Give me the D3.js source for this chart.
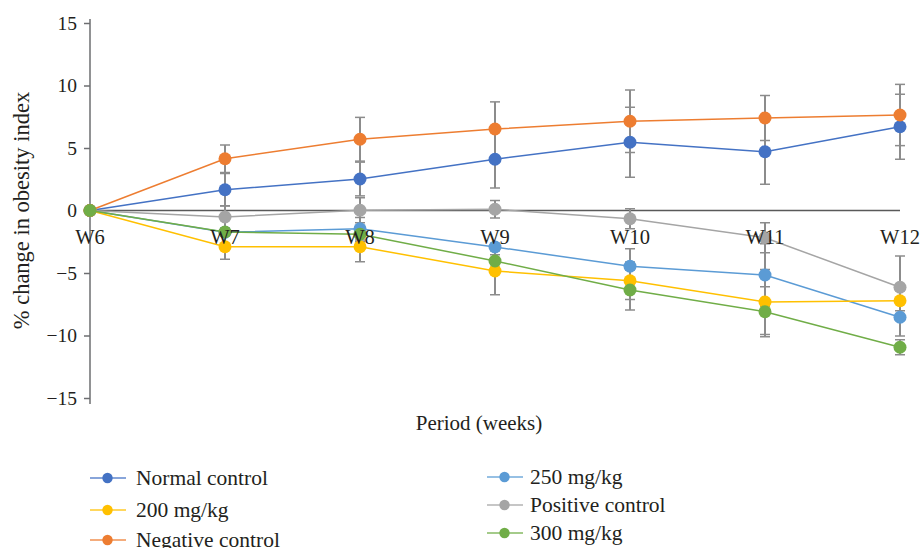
<!DOCTYPE html>
<html>
<head>
<meta charset="utf-8">
<script src="https://cdn.jsdelivr.net/npm/d3@7"></script>
<style>
  html, body { margin: 0; padding: 0; background: #fff; }
  svg { display: block; }
  text { font-family: "Liberation Serif", "DejaVu Serif", serif; fill: #231f20; }
</style>
</head>
<body>
<svg id="chart" width="923" height="548"></svg>
<script>
const weeks = ["W6", "W7", "W8", "W9", "W10", "W11", "W12"];
const yTicks = [-15, -10, -5, 0, 5, 10, 15];

const seriesNames = ["Normal control", "250 mg/kg", "200 mg/kg", "Positive control", "Negative control", "300 mg/kg"];
const seriesColors = ["#4472C4", "#5B9BD5", "#FFC000", "#A5A5A5", "#ED7D31", "#70AD47"];

const normalControl   = [0, 1.66, 2.52, 4.10, 5.46, 4.70, 6.70];
const normalErr       = [0, 1.3, 1.35, 2.3, 2.8, 2.6, 2.6];
const mg250           = [0, -1.74, -1.46, -2.92, -4.46, -5.16, -8.54];
const mg250Err        = [0, 0.2, 0.9, 0.3, 1.4, 2.5, 1.5];
const mg200           = [0, -2.90, -2.90, -4.84, -5.62, -7.32, -7.22];
const mg200Err        = [0, 1.0, 1.2, 1.9, 1.5, 2.6, 0.8];
const positiveControl = [0, -0.52, 0.02, 0.10, -0.66, -2.18, -6.14];
const positiveErr     = [0, 0.9, 1.0, 0.7, 0.8, 1.2, 2.5];
const negativeControl = [0, 4.14, 5.70, 6.52, 7.14, 7.40, 7.64];
const negativeErr     = [0, 1.1, 1.75, 2.17, 2.5, 1.8, 2.45];
const mg300           = [0, -1.72, -1.90, -4.04, -6.36, -8.10, -10.94];
const mg300Err        = [0, 0.3, 0.6, 0.5, 1.6, 2.0, 0.6];

const seriesValues = [normalControl, mg250, mg200, positiveControl, negativeControl, mg300];
const seriesErrors = [normalErr, mg250Err, mg200Err, positiveErr, negativeErr, mg300Err];

const series = seriesNames.map((name, i) => ({
  name, color: seriesColors[i],
  points: weeks.map((w, j) => ({ w, v: seriesValues[i][j], e: seriesErrors[i][j] }))
}));

const svg = d3.select("#chart");
const x = d3.scalePoint().domain(weeks).range([90, 900]);
const y = d3.scaleLinear().domain([-15, 15]).range([398, 23]);

// Y axis
const yAxis = svg.append("g").attr("transform", "translate(90,0)")
  .call(d3.axisLeft(y).tickValues(yTicks).tickSize(6).tickPadding(7));
yAxis.select(".domain").attr("stroke", "#6d6e71").attr("stroke-width", 1.5)
  .attr("d", `M0,${y(15) - 4}V${y(-15) + 6}`);
yAxis.selectAll(".tick line").attr("stroke", "#6d6e71").attr("stroke-width", 1.5);
yAxis.selectAll(".tick text").style("font-size", "19.5px")
  .style("font-family", "'Liberation Serif', serif").attr("fill", "#231f20");

// Zero line
svg.append("line")
  .attr("x1", x("W6")).attr("x2", x("W12"))
  .attr("y1", y(0)).attr("y2", y(0))
  .attr("stroke", "#595959").attr("stroke-width", 1.5);

// Error bars
const eb = svg.append("g");
series.forEach(s => {
  s.points.forEach(p => {
    if (!p.e) return;
    const cx = x(p.w);
    eb.append("line").attr("x1", cx).attr("x2", cx)
      .attr("y1", y(p.v + p.e)).attr("y2", y(p.v - p.e))
      .attr("stroke", "#8c8c8c").attr("stroke-width", 2);
    [p.v + p.e, p.v - p.e].forEach(vv => {
      eb.append("line").attr("x1", cx - 5).attr("x2", cx + 5)
        .attr("y1", y(vv)).attr("y2", y(vv))
        .attr("stroke", "#8c8c8c").attr("stroke-width", 1.5);
    });
  });
});

// Lines and markers
const line = d3.line().x(d => x(d.w)).y(d => y(d.v));
series.forEach(s => {
  const g = svg.append("g");
  g.append("path").datum(s.points).attr("d", line)
    .attr("fill", "none").attr("stroke", s.color).attr("stroke-width", 1.5);
  g.selectAll("circle").data(s.points).join("circle")
    .attr("cx", d => x(d.w)).attr("cy", d => y(d.v)).attr("r", 6.5)
    .attr("fill", s.color);
});

// Category labels (drawn above the marks, as in the reference)
svg.append("g").selectAll("text").data(weeks).join("text")
  .attr("x", d => x(d)).attr("y", y(0) + 33)
  .attr("text-anchor", "middle").style("font-size", "20.5px").text(d => d);

// Axis titles
svg.append("text").attr("transform", `translate(29,${y(0)}) rotate(-90)`)
  .attr("text-anchor", "middle").style("font-size", "22.5px")
  .text("% change in obesity index");
svg.append("text").attr("x", 479).attr("y", 430)
  .attr("text-anchor", "middle").style("font-size", "21px")
  .text("Period (weeks)");

// Legend
const legendPos = [
  { i: 0, lx: 90, ly: 478 }, { i: 2, lx: 90, ly: 510 }, { i: 4, lx: 90, ly: 540 },
  { i: 1, lx: 487, ly: 477 }, { i: 3, lx: 487, ly: 505 }, { i: 5, lx: 487, ly: 533 }
];
const lg = svg.append("g");
legendPos.forEach(p => {
  const s = series[p.i];
  lg.append("line").attr("x1", p.lx).attr("x2", p.lx + 36)
    .attr("y1", p.ly).attr("y2", p.ly)
    .attr("stroke", s.color).attr("stroke-width", 1.6).attr("stroke-opacity", 0.85);
  lg.append("circle").attr("cx", p.lx + 17.5).attr("cy", p.ly).attr("r", 5.2)
    .attr("fill", s.color);
  lg.append("text").attr("x", p.lx + (p.lx < 200 ? 46 : 43)).attr("y", p.ly + 7)
    .style("font-size", "21.5px").text(s.name);
});
</script>
</body>
</html>
